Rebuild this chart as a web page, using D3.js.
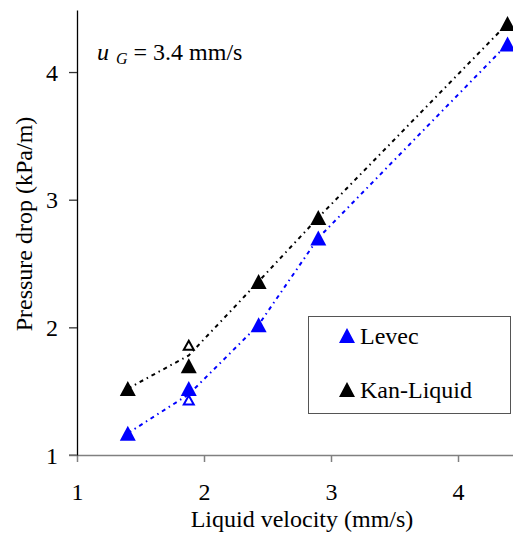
<!DOCTYPE html>
<html>
<head>
<meta charset="utf-8">
<script src="https://cdn.jsdelivr.net/npm/d3@7/dist/d3.min.js"></script>
<style>
  html, body { margin: 0; padding: 0; background: #fff; }
  svg { display: block; }
  text { font-family: "Liberation Serif", "Times New Roman", serif; fill: #000; }
</style>
</head>
<body>
<svg id="chart" width="513" height="535"></svg>
<script>
// ---- data ----
const velocity = [1.4, 1.88, 2.43, 2.9, 4.39];
const levec = [1.17, 1.52, 2.02, 2.70, 4.22];
const kanLiquid = [1.52, 1.70, 2.36, 2.86, 4.38];
const levecLine = [1.17, 1.475, 2.02, 2.70, 4.22];
const kanLiquidLine = [1.52, 1.78, 2.36, 2.86, 4.38];
const openVelocity = [1.88];
const levecOpen = [1.43];
const kanLiquidOpen = [1.86];
const xTicks = [1, 2, 3, 4];
const yTicks = [1, 2, 3, 4];
const seriesNames = ["Levec", "Kan-Liquid"];
const seriesColors = ["#0000ff", "#000000"];

const FS = 24;
const svg = d3.select("#chart");
const x = d3.scaleLinear().domain([1, 4.433]).range([77, 513]);
const y = d3.scaleLinear().domain([1, 4.486]).range([455, 10]);

// axes
const xAxis = svg.append("g").attr("transform", "translate(0,455)")
  .call(d3.axisBottom(x).tickValues(xTicks).tickSizeInner(7).tickSizeOuter(0).tickFormat(d3.format("d")));
xAxis.attr("font-family", null).attr("font-size", null);
xAxis.select(".domain").attr("stroke", "#808080").attr("stroke-width", 1.5);
xAxis.selectAll(".tick line").attr("stroke", "#808080").attr("stroke-width", 1.5);
xAxis.selectAll(".tick text").attr("font-size", FS).attr("dy", 0).attr("y", 45);

const yAxis = svg.append("g").attr("transform", "translate(77,0)")
  .call(d3.axisLeft(y).tickValues(yTicks).tickSizeInner(8).tickSizeOuter(0).tickFormat(d3.format("d")));
yAxis.attr("font-family", null).attr("font-size", null);
yAxis.select(".domain").attr("stroke", "#000").attr("stroke-width", 1.3);
yAxis.selectAll(".tick line").attr("stroke", "#333").attr("stroke-width", 1.3);
yAxis.selectAll(".tick text").attr("font-size", FS).attr("x", -19).attr("dy", "0.34em");
// x axis line continues left of the y axis (value 1)
svg.append("line").attr("x1", 69).attr("x2", 77).attr("y1", y(1)).attr("y2", y(1))
  .attr("stroke", "#808080").attr("stroke-width", 1.5);

// titles
svg.append("text").attr("x", 302).attr("y", 527).attr("text-anchor", "middle")
  .attr("font-size", FS).text("Liquid velocity (mm/s)");
svg.append("text").attr("transform", "translate(32,224) rotate(-90)").attr("text-anchor", "middle")
  .attr("font-size", FS).text("Pressure drop (kPa/m)");

// annotation
const ann = svg.append("text").attr("x", 97).attr("y", 60).attr("font-size", FS);
ann.append("tspan").attr("font-style", "italic").text("u");
ann.append("tspan").attr("font-style", "italic").attr("font-size", 16).attr("dx", 7).attr("dy", 4).text("G");
ann.append("tspan").attr("dy", -4).text(" = 3.4 mm/s");

// lines
const lineGen = d3.line().x((d, i) => x(velocity[i])).y(d => y(d));
[levecLine, kanLiquidLine].forEach((vals, k) => {
  svg.append("path").datum(vals).attr("d", lineGen)
    .attr("fill", "none").attr("stroke", seriesColors[k]).attr("stroke-width", 2)
    .attr("stroke-dasharray", "4,4,1.5,4");
});

function tri(cx, cy, w, h) {
  return `M${cx},${cy - h / 2}L${cx + w / 2},${cy + h / 2}L${cx - w / 2},${cy + h / 2}Z`;
}

// filled markers
[levec, kanLiquid].forEach((vals, k) => {
  svg.append("g").selectAll("path").data(vals).join("path")
    .attr("d", (d, i) => tri(x(velocity[i]), y(d), 16, 15))
    .attr("fill", seriesColors[k]);
});
// open markers
[levecOpen, kanLiquidOpen].forEach((vals, k) => {
  svg.append("g").selectAll("path").data(vals).join("path")
    .attr("d", (d, i) => tri(x(openVelocity[i]), y(d), 10, 9))
    .attr("fill", "#fff").attr("stroke", seriesColors[k]).attr("stroke-width", 2);
});

// legend
const lg = svg.append("g");
lg.append("rect").attr("x", 308.5).attr("y", 316.5).attr("width", 202).attr("height", 97)
  .attr("fill", "#fff").attr("stroke", "#555").attr("stroke-width", 1);
seriesNames.forEach((name, k) => {
  const cy = 335.5 + k * 54;
  lg.append("path").attr("d", tri(347, cy, 16, 15)).attr("fill", seriesColors[k]);
  lg.append("text").attr("x", 360).attr("y", cy + 8).attr("font-size", FS).text(name);
});
</script>
</body>
</html>
